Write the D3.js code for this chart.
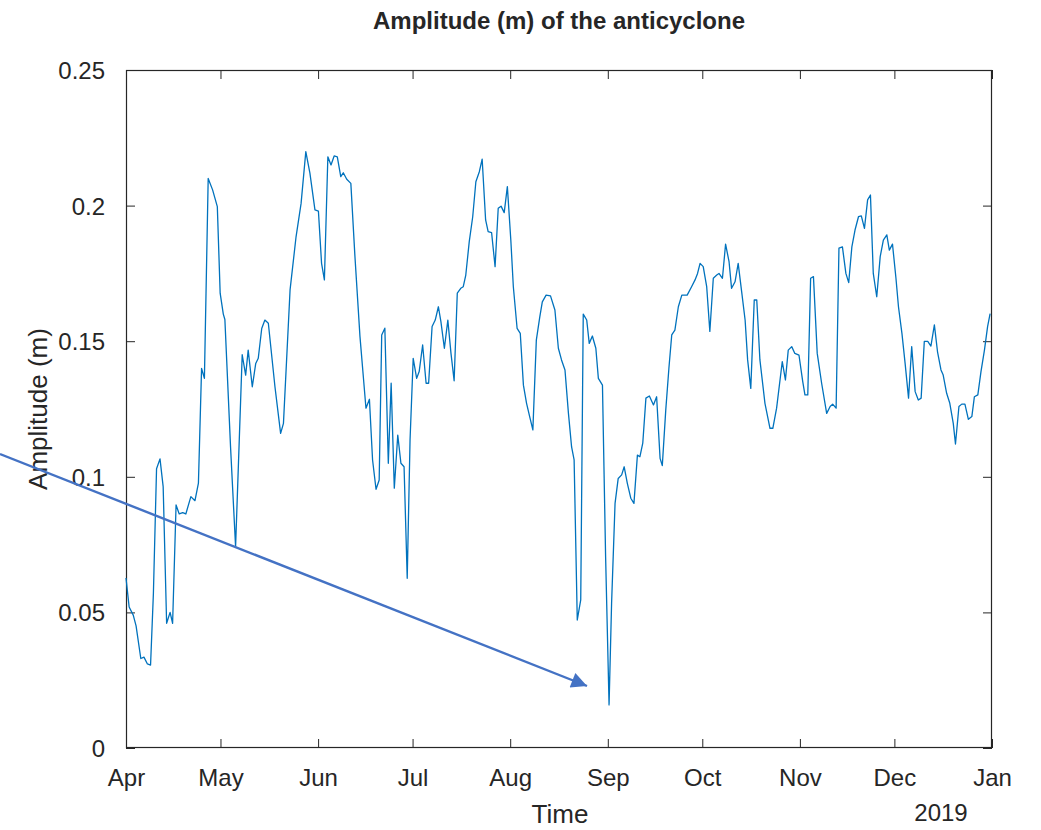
<!DOCTYPE html>
<html>
<head>
<meta charset="utf-8">
<script src="https://cdn.jsdelivr.net/npm/d3@7"></script>
<style>
  html, body { margin: 0; padding: 0; background: #fff; }
  svg { display: block; }
  text { font-family: "Liberation Sans", Arial, Helvetica, sans-serif; fill: #262626; }
</style>
</head>
<body>
<svg id="chart" width="1041" height="830"></svg>
<script>
// ---- data ----
const startDate = "2018-04-01";
const endDate = "2019-01-01";
// day offsets from 1 April 2018
const dayOffsets = [
  0, 1.0, 2.3, 3.2, 4.7, 5.7, 6.8, 7.8, 8.7, 9.7, 10.8, 11.8, 12.9, 14.0, 14.8, 15.9, 16.9, 18.0, 19.0, 20.6,
  21.9, 23.0, 24.0, 24.9, 26.1, 27.5, 29.0, 29.9, 30.9, 31.4, 33.2, 34.8, 36.9, 38.0, 38.8, 40.1, 41.2, 42.0, 43.1, 44.1,
  45.2, 47.3, 49.1, 50.0, 52.1, 54.0, 55.6, 57.1, 58.4, 60.0, 61.1, 62.1, 63.0, 64.1, 65.1, 66.1, 67.1, 68.2, 69.0, 70.1,
  71.4, 72.7, 74.3, 76.2, 77.3, 78.3, 79.4, 80.4, 81.2, 82.2, 83.3, 84.2, 85.2, 86.3, 87.3, 88.3, 89.3, 90.2, 91.2, 92.3,
  93.1, 94.2, 95.3, 96.1, 97.2, 98.2, 99.2, 100.0, 101.1, 102.2, 103.2, 104.2, 105.2, 106.3, 107.1, 107.9, 109.0, 110.1, 111.1, 112.2,
  113.1, 114.2, 115.0, 116.1, 117.2, 118.2, 119.1, 120.1, 121.1, 122.2, 123.0, 124.2, 125.2, 126.2, 127.2, 128.3, 129.2, 130.3, 131.4, 132.2,
  133.4, 134.8, 136.2, 137.3, 138.3, 139.4, 140.5, 141.5, 142.3, 143.3, 144.4, 145.2, 146.3, 147.1, 148.1, 149.2, 150.0, 151.3, 152.3, 153.4,
  154.2, 155.3, 156.3, 157.4, 158.2, 159.2, 160.3, 161.3, 162.4, 163.2, 164.1, 165.1, 166.2, 167.5, 168.5, 169.6, 170.3, 171.4, 172.4, 173.3,
  174.3, 175.4, 176.5, 178.2, 179.6, 180.7, 181.5, 182.3, 183.3, 184.4, 185.4, 186.5, 187.6, 188.3, 189.4, 190.4, 191.5, 192.3, 193.4, 194.4,
  195.5, 196.6, 197.4, 198.4, 199.5, 200.3, 201.3, 202.9, 204.5, 205.4, 206.6, 208.4, 209.4, 210.3, 211.4, 212.4, 213.7, 214.9, 215.6, 216.5,
  217.4, 218.3, 219.5, 220.9, 222.5, 223.6, 224.4, 225.5, 226.4, 227.5, 228.6, 229.5, 230.5, 231.5, 232.6, 233.5, 234.5, 235.5, 236.4, 237.3,
  238.4, 239.5, 240.5, 241.6, 242.4, 243.4, 244.5, 245.3, 246.4, 247.4, 248.5, 249.5, 250.6, 251.6, 252.5, 253.5, 254.6, 255.6, 256.7, 257.7,
  258.8, 259.5, 260.6, 261.6, 262.7, 263.4, 264.5, 265.4, 266.4, 267.5, 268.6, 269.4, 270.5, 271.5, 272.6, 273.6, 274.4
];
const amplitude = [
  0.0627, 0.052, 0.049, 0.045, 0.033, 0.0335, 0.031, 0.0306, 0.057, 0.103, 0.1066, 0.0964, 0.046, 0.050, 0.046, 0.0896, 0.0863, 0.0868, 0.0863, 0.0927,
  0.0912, 0.0977, 0.140, 0.1363, 0.210, 0.2058, 0.1996, 0.1677, 0.160, 0.158, 0.111, 0.0742, 0.145, 0.1375, 0.1467, 0.1332, 0.1418, 0.1437, 0.1547, 0.1578,
  0.1566, 0.1332, 0.116, 0.1197, 0.1689, 0.1885, 0.2008, 0.2199, 0.212, 0.1984, 0.198, 0.1787, 0.1726, 0.218, 0.215, 0.2183, 0.218, 0.2107, 0.2121, 0.2097,
  0.2082, 0.1812, 0.1517, 0.1253, 0.1286, 0.1062, 0.0954, 0.0988, 0.1523, 0.1548, 0.105, 0.1345, 0.0958, 0.1154, 0.105, 0.1037, 0.0626, 0.1136, 0.1437, 0.1363,
  0.1388, 0.1486, 0.1345, 0.1345, 0.1554, 0.1578, 0.1627, 0.1572, 0.1474, 0.1578, 0.1455, 0.1354, 0.1677, 0.1695, 0.1701, 0.1744, 0.1867, 0.1959, 0.2088, 0.2125,
  0.2171, 0.1947, 0.1904, 0.190, 0.1775, 0.199, 0.1998, 0.1974, 0.207, 0.1873, 0.1701, 0.1547, 0.1529, 0.1338, 0.1271, 0.1216, 0.1173, 0.1504, 0.159, 0.1645,
  0.167, 0.1667, 0.1615, 0.1474, 0.1431, 0.1394, 0.1234, 0.111, 0.1062, 0.0472, 0.0546, 0.160, 0.1578, 0.1492, 0.1519, 0.1474, 0.1363, 0.1338, 0.0705, 0.0159,
  0.0534, 0.0902, 0.0994, 0.1007, 0.1037, 0.0976, 0.0921, 0.0902, 0.108, 0.1074, 0.1124, 0.129, 0.1298, 0.1265, 0.1295, 0.1068, 0.1041, 0.1246, 0.140, 0.1523,
  0.1541, 0.1627, 0.167, 0.167, 0.1701, 0.1726, 0.175, 0.1787, 0.1775, 0.1701, 0.1536, 0.1732, 0.1744, 0.175, 0.1732, 0.1858, 0.1793, 0.1695, 0.1719, 0.1787,
  0.1683, 0.1578, 0.1431, 0.1326, 0.1652, 0.1652, 0.1431, 0.1271, 0.1179, 0.1179, 0.1253, 0.1425, 0.1357, 0.1467, 0.148, 0.1455, 0.1449, 0.1351, 0.1302, 0.1302,
  0.1732, 0.1738, 0.1455, 0.1345, 0.1234, 0.1259, 0.1268, 0.1253, 0.1843, 0.1848, 0.175, 0.1716, 0.1848, 0.191, 0.1959, 0.1962, 0.1916, 0.2021, 0.2039, 0.175,
  0.1664, 0.1812, 0.1873, 0.1892, 0.1836, 0.1858, 0.1732, 0.1627, 0.1529, 0.1419, 0.129, 0.148, 0.1314, 0.1283, 0.129, 0.1499, 0.1499, 0.1482, 0.156, 0.1461,
  0.1394, 0.1375, 0.1308, 0.1271, 0.1197, 0.1121, 0.1259, 0.1268, 0.1268, 0.1212, 0.1222, 0.1295, 0.1302, 0.1388, 0.1467, 0.1554, 0.1602
];
const monthTickDates = ["2018-04-01","2018-05-01","2018-06-01","2018-07-01","2018-08-01","2018-09-01","2018-10-01","2018-11-01","2018-12-01","2019-01-01"];
const monthTickLabels = ["Apr","May","Jun","Jul","Aug","Sep","Oct","Nov","Dec","Jan"];
const yTickValues = [0, 0.05, 0.1, 0.15, 0.2, 0.25];
const yTickLabels = ["0", "0.05", "0.1", "0.15", "0.2", "0.25"];
const yearLabel = "2019";
const titleText = "Amplitude (m) of the anticyclone";
const xLabelText = "Time";
const yLabelText = "Amplitude (m)";

// ---- drawing ----
const svg = d3.select("#chart");
const W = 1041, H = 830;
const m = { left: 126, right: 992, top: 70, bottom: 748 };
const parseUTC = s => new Date(s + "T00:00:00Z");
const t0 = parseUTC(startDate);

const x = d3.scaleUtc().domain([t0, parseUTC(endDate)]).range([m.left, m.right]);
const y = d3.scaleLinear().domain([0, 0.25]).range([m.bottom, m.top]);

const data = dayOffsets.map((d, i) => ({ date: new Date(t0.getTime() + d * 864e5), v: amplitude[i] }));
const tickDates = monthTickDates.map(parseUTC);

svg.append("rect").attr("width", W).attr("height", H).attr("fill", "#fff");

const axisColor = "#262626";
const tickLen = 9;

const xAxisBottom = d3.axisBottom(x).tickValues(tickDates).tickFormat((d, i) => monthTickLabels[i]).tickSizeInner(-tickLen).tickSizeOuter(0).tickPadding(tickLen + 12);
const xAxisTop = d3.axisTop(x).tickValues(tickDates).tickFormat("").tickSizeInner(-tickLen).tickSizeOuter(0);
const yAxisLeft = d3.axisLeft(y).tickValues(yTickValues).tickFormat((d, i) => yTickLabels[i]).tickSizeInner(-tickLen).tickSizeOuter(0).tickPadding(tickLen + 12);
const yAxisRight = d3.axisRight(y).tickValues(yTickValues).tickFormat("").tickSizeInner(-tickLen).tickSizeOuter(0);

function styleAxis(g) {
  g.select(".domain").remove();
  g.selectAll(".tick line").attr("stroke", axisColor).attr("stroke-width", 1);
  g.selectAll(".tick text").attr("fill", axisColor).style("font-size", "24px").style("font-family", "'Liberation Sans', Arial, sans-serif");
}

const gxb = svg.append("g").attr("transform", `translate(0,${m.bottom})`).call(xAxisBottom).call(styleAxis);
gxb.selectAll(".tick text").attr("dy", "0.71em");
svg.append("g").attr("transform", `translate(0,${m.top})`).call(xAxisTop).call(styleAxis);
const gyl = svg.append("g").attr("transform", `translate(${m.left},0)`).call(yAxisLeft).call(styleAxis);
gyl.selectAll(".tick text").attr("dy", "0.35em");
svg.append("g").attr("transform", `translate(${m.right},0)`).call(yAxisRight).call(styleAxis);

// Box
svg.append("rect")
  .attr("x", m.left + 0.5).attr("y", m.top + 0.5)
  .attr("width", m.right - m.left - 1).attr("height", m.bottom - m.top - 1)
  .attr("fill", "none").attr("stroke", axisColor).attr("stroke-width", 1.2);

// Line
const line = d3.line().x(d => x(d.date)).y(d => y(d.v));
svg.append("path").datum(data)
  .attr("d", line)
  .attr("fill", "none")
  .attr("stroke", "#0072BD")
  .attr("stroke-width", 1.3)
  .attr("stroke-linejoin", "round");

// Labels
svg.append("text").attr("x", (m.left + m.right) / 2).attr("y", 29)
  .attr("text-anchor", "middle").style("font-weight", "bold").style("font-size", "24px")
  .attr("fill", "#000").text(titleText);

svg.append("text").attr("x", (m.left + m.right) / 2 + 1).attr("y", 823)
  .attr("text-anchor", "middle").style("font-size", "26px").text(xLabelText);

svg.append("text").attr("x", 941).attr("y", 821)
  .attr("text-anchor", "middle").style("font-size", "24px").text(yearLabel);

svg.append("text")
  .attr("transform", `translate(47,${(m.top + m.bottom) / 2}) rotate(-90)`)
  .attr("text-anchor", "middle").style("font-size", "26px").text(yLabelText);

// Annotation arrow
const arrowColor = "#4472C4";
svg.append("defs").append("marker")
  .attr("id", "ah").attr("viewBox", "0 0 10 10").attr("refX", 10).attr("refY", 5)
  .attr("markerWidth", 7.5).attr("markerHeight", 6.5).attr("markerUnits", "strokeWidth")
  .attr("orient", "auto")
  .append("path").attr("d", "M0,0 L10,5 L0,10 Z").attr("fill", arrowColor);
svg.append("line")
  .attr("x1", 0).attr("y1", 454).attr("x2", 587).attr("y2", 686)
  .attr("stroke", arrowColor).attr("stroke-width", 2.4)
  .attr("marker-end", "url(#ah)");
</script>
</body>
</html>
